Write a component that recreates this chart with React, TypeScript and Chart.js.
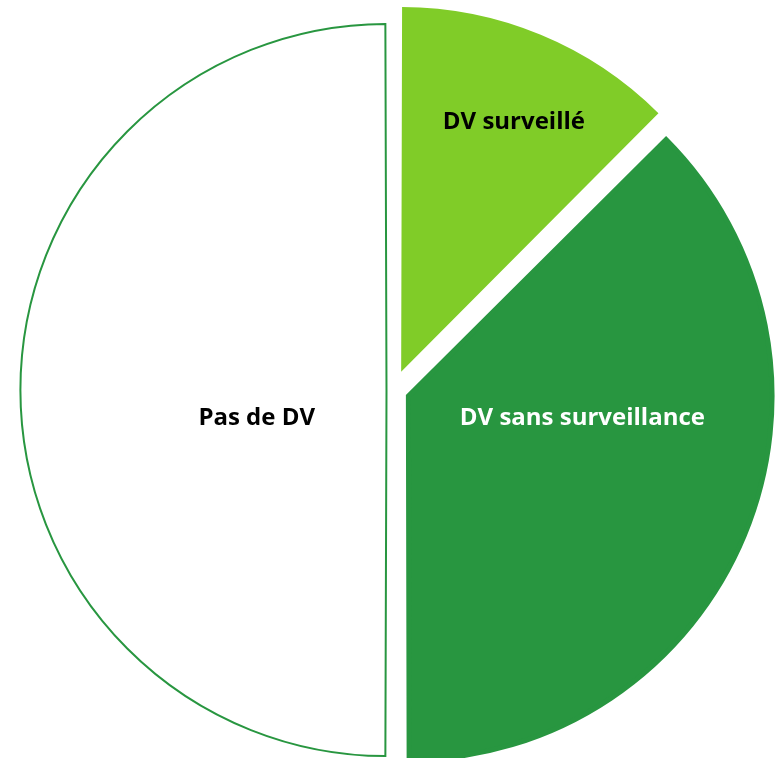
import React, { useEffect, useRef } from 'react';
import { Chart, registerables } from 'chart.js';

Chart.register(...registerables);

const categories = ['DV surveillé', 'DV sans surveillance', 'Pas de DV'];
const shares = [12.5, 37.5, 50];
const fillColors = ['#80cc28', '#289640', '#ffffff'];
const edgeColors = ['#80cc28', '#289640', '#289640'];
const edgeWidths = [0, 5, 2];
const sliceOffsets = [79, 64, 28.4];
const labelColors = ['#000000', '#ffffff', '#000000'];

// label placement (layout only): angle in degrees clockwise from top, fraction of radius
const labelAngles = [24.2, 96.7, 258.4];
const labelRadii = [0.766, 0.488, 0.369];

export default function App() {
  const ref = useRef<HTMLCanvasElement>(null);

  useEffect(() => {
    if (!ref.current) return;
    const labelPlugin = {
      id: 'sliceLabels',
      afterDatasetsDraw(chart: any) {
        const ctx = chart.ctx;
        const meta = chart.getDatasetMeta(0);
        ctx.save();
        ctx.font = 'bold 24px "Open Sans"';
        ctx.textAlign = 'center';
        ctx.textBaseline = 'alphabetic';
        meta.data.forEach((arc: any, i: number) => {
          const p = arc.getProps(['x', 'y', 'startAngle', 'endAngle', 'outerRadius'], true);
          const off = (arc.options.offset || 0) / 4;
          const mid = (p.startAngle + p.endAngle) / 2;
          const ax = p.x + Math.cos(mid) * off;
          const ay = p.y + Math.sin(mid) * off;
          const a = ((labelAngles[i] - 90) * Math.PI) / 180;
          const r = labelRadii[i] * p.outerRadius;
          const x = ax + Math.cos(a) * r;
          const y = ay + Math.sin(a) * r;
          ctx.fillStyle = labelColors[i];
          ctx.fillText(chart.data.labels[i], x, y + 8.5);
        });
        ctx.restore();
      },
    };

    const chart = new Chart(ref.current, {
      type: 'pie',
      data: {
        labels: categories,
        datasets: [
          {
            data: shares,
            backgroundColor: fillColors,
            borderColor: edgeColors,
            borderWidth: edgeWidths,
            offset: sliceOffsets,
            borderJoinStyle: 'miter',
            radius: 359,
          } as any,
        ],
      },
      options: {
        animation: false,
        responsive: false,
        devicePixelRatio: 1,
        layout: { padding: { left: 9.2, right: 0, top: 22, bottom: 0 } },
        plugins: {
          legend: { display: false },
          tooltip: { enabled: false },
        },
      },
      plugins: [labelPlugin],
    });
    return () => chart.destroy();
  }, []);

  return (
    <div style={{ position: 'absolute', left: 0, top: 0, width: 778, height: 758 }}>
      <canvas ref={ref} width={778} height={758} />
    </div>
  );
}
